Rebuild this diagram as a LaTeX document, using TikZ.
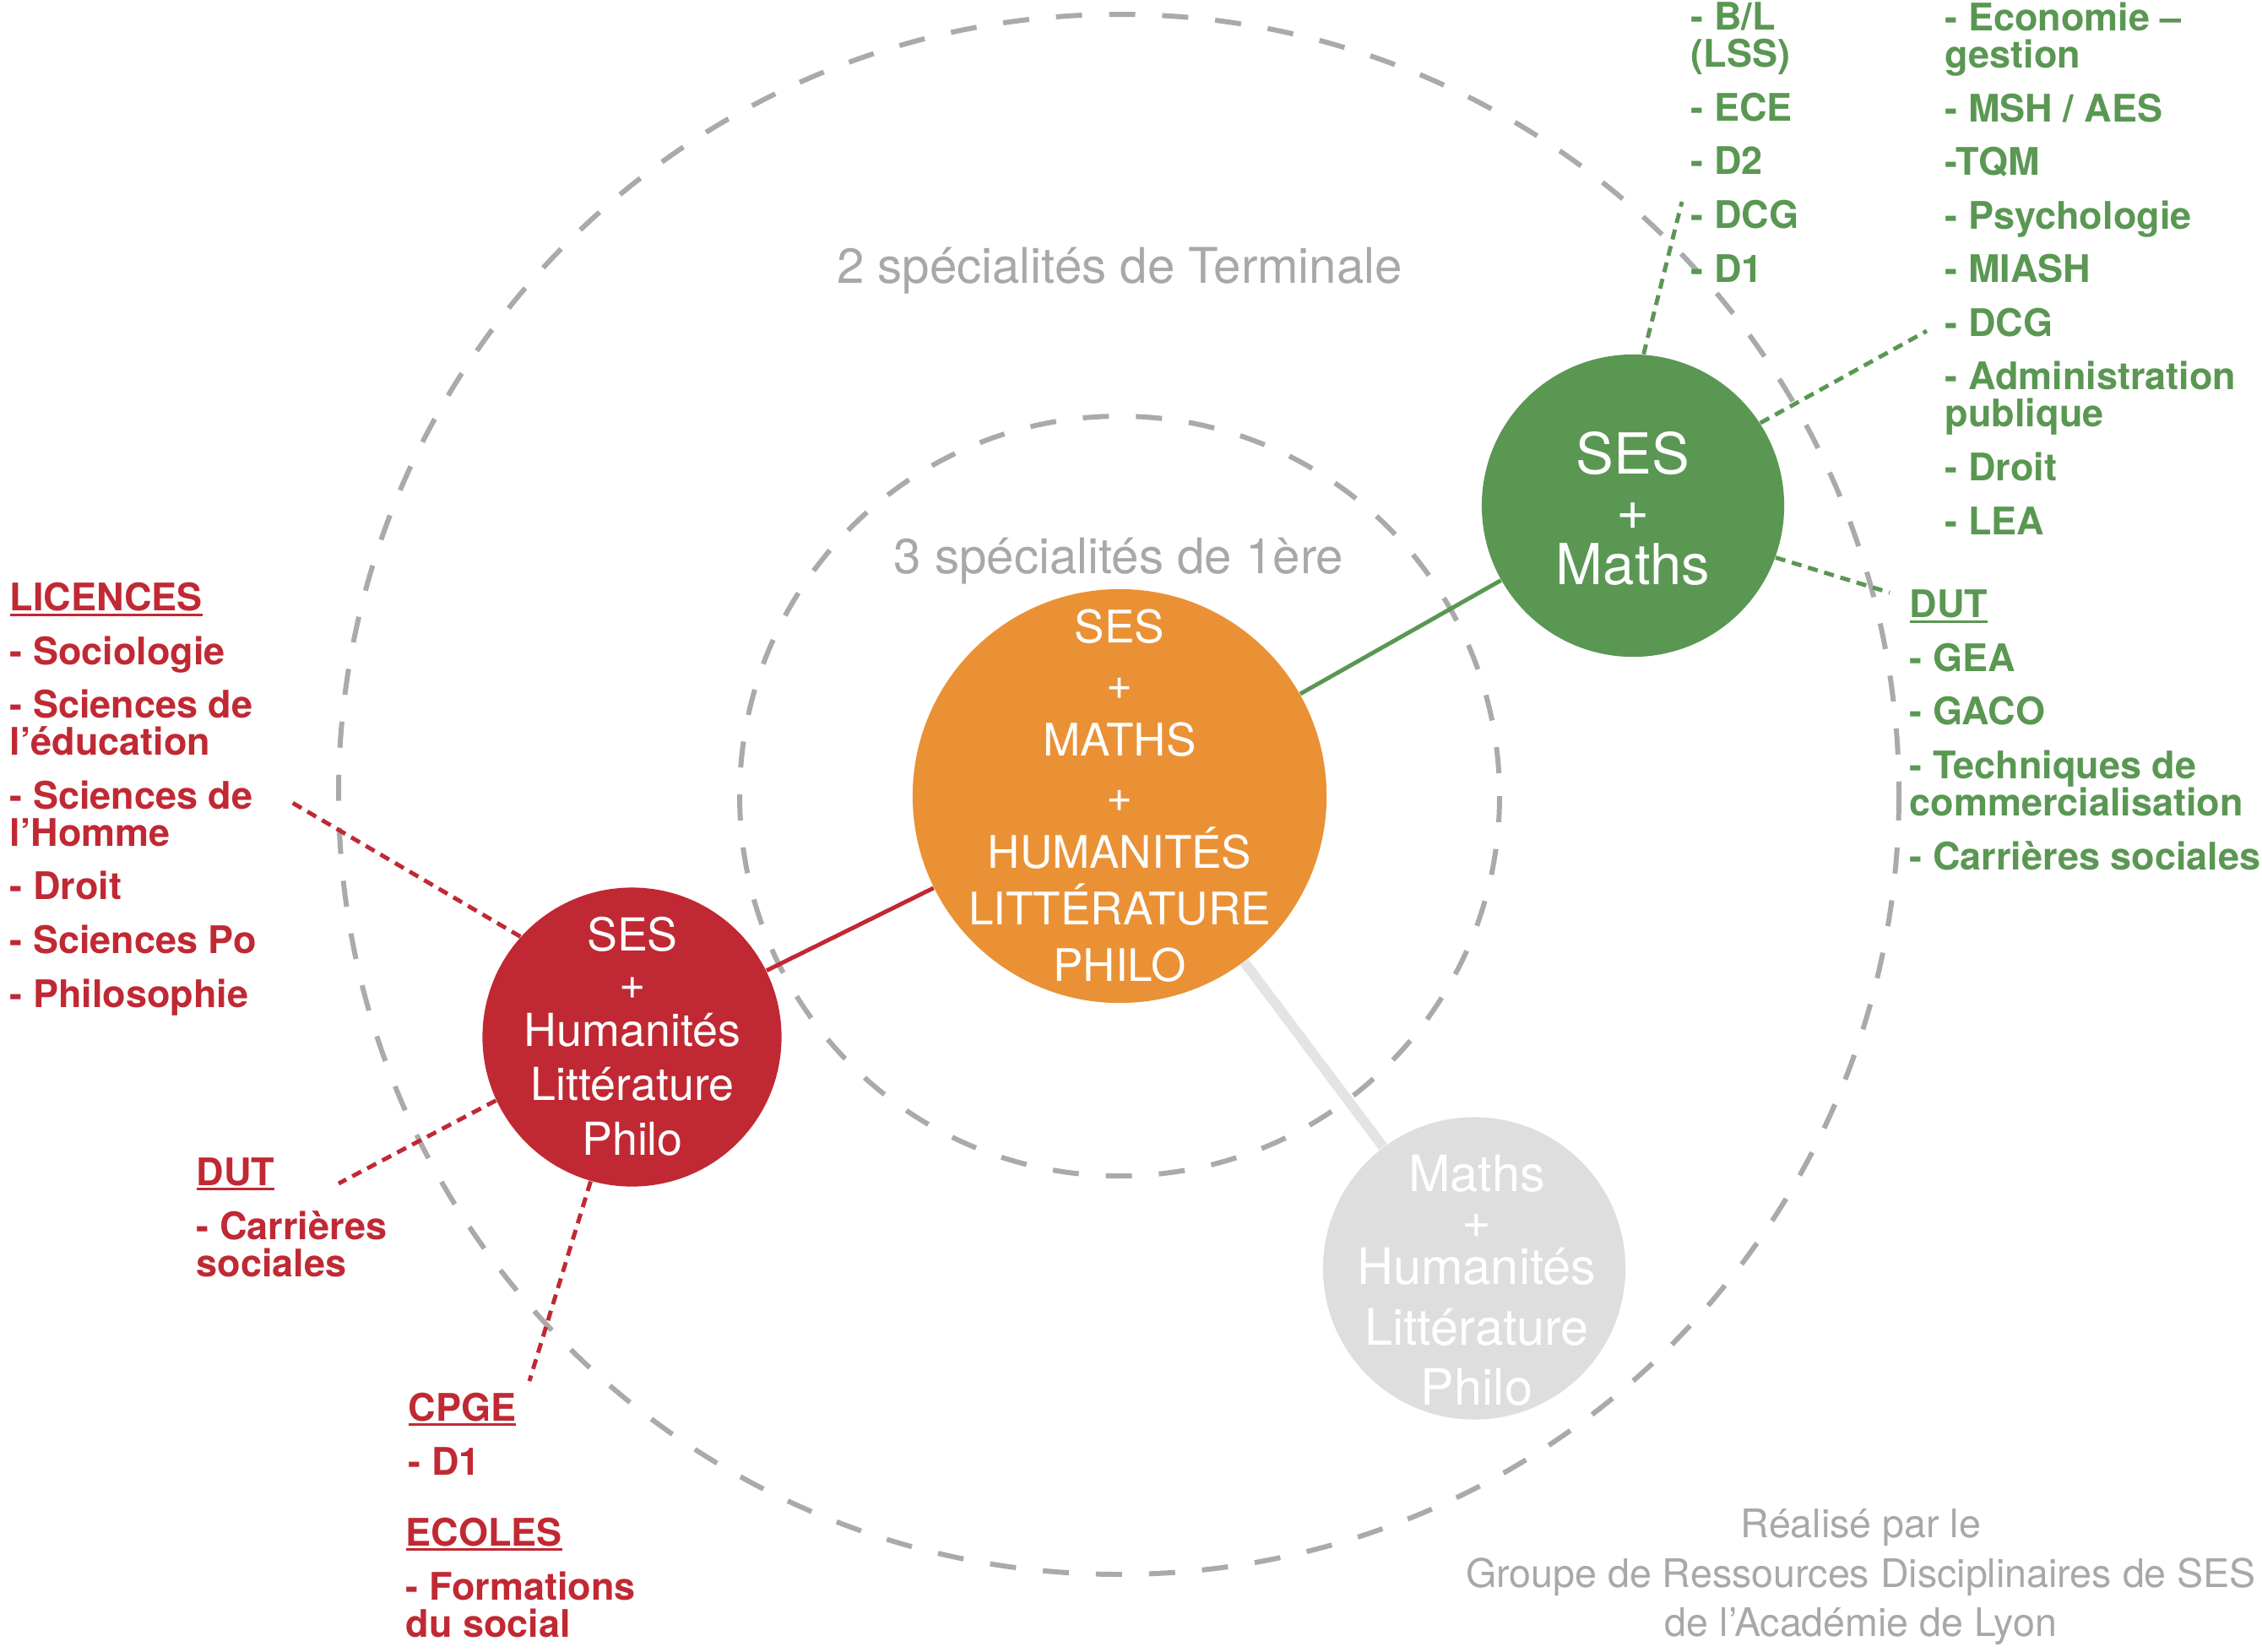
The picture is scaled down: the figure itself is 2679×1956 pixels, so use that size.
\documentclass[tikz,border=0pt]{standalone}
\usepackage{fontspec}
\setmainfont{TeX Gyre Heros}
\definecolor{sesgreen}{RGB}{90,151,83}
\definecolor{sesred}{RGB}{192,41,51}
\definecolor{sesorange}{RGB}{234,145,54}
\definecolor{sesgraycirc}{RGB}{222,222,222}
\definecolor{sesgrayline}{RGB}{228,228,228}
\definecolor{sesdash}{RGB}{170,170,170}
\definecolor{sestext}{RGB}{168,168,168}
\newsavebox\ulbox
\newcommand\myul[1]{\sbox\ulbox{#1}\rlap{\rule[-1.7pt]{\wd\ulbox}{0.85pt}}\usebox\ulbox}
\newcommand\ig{\\[5.55pt]}
\tikzset{
  ring/.style={draw=sesdash, line width=1.7pt, dash pattern=on 8.8pt off 9.1pt},
  bub/.style={circle, inner sep=0pt, minimum size=#1},
  ctext/.style={text=white, align=center, inner sep=0pt, anchor=base},
  list/.style={font=\bfseries\fontsize{12.8pt}{12.52pt}\selectfont, align=left, inner sep=0pt, anchor=base west},
  redlist/.style={list, text=sesred},
  greenlist/.style={list, text=sesgreen},
  reddot/.style={draw=sesred, line width=1.4pt, dash pattern=on 3.4pt off 2.3pt},
  greendot/.style={draw=sesgreen, line width=1.4pt, dash pattern=on 3.4pt off 2.3pt},
  titletext/.style={text=sestext, font=\fontsize{16.55pt}{19pt}\selectfont, inner sep=0pt, anchor=base},
}
\begin{document}
\begin{tikzpicture}[x=0.01cm, y=-0.01cm]
\useasboundingbox (0,0) rectangle (2679,1956);

% dashed rings
\draw[ring] (1325,941) circle[radius=924];
\draw[ring] (1326,943) circle[radius=450];

% bubbles
\node[bub=3.58cm, fill=sesgreen] (green) at (1934,599) {};
\node[bub=4.9cm, fill=sesorange] (orange) at (1326,943) {};
\node[bub=3.54cm, fill=sesred] (red) at (748.5,1228.5) {};
\node[bub=3.58cm, fill=sesgraycirc] (grey) at (1746,1502.5) {};

% solid connectors
\draw[sesgrayline, line width=3.4pt] (orange) -- (grey);
\draw[sesgreen, line width=1.4pt] (orange) -- (green);
\draw[sesred, line width=1.4pt] (orange) -- (red);

% dotted connectors
\coordinate (gtop) at (1992,239);
\coordinate (gdcg) at (2282,392);
\coordinate (gdut) at (2238,702);
\draw[greendot] (green.86) -- (gtop);
\draw[greendot] (green.33) -- (gdcg);
\draw[greendot] (green.-20) -- (gdut);
\coordinate (rlic) at (343,949);
\coordinate (rdut) at (401,1402);
\coordinate (rcpge) at (627,1636);
\draw[reddot] (red.138) -- (rlic);
\draw[reddot] (red.205) -- (rdut);
\draw[reddot] (red.-106) -- (rcpge);

% bubble texts (anchor = baseline of last line)
\node[ctext, font=\fontsize{19.06pt}{18.49pt}\selectfont] (tg) at (1934,692) {SES\\+\\Maths};
\node[ctext, font=\fontsize{15.1pt}{18.98pt}\selectfont] (to) at (1326,1162) {SES\\+\\MATHS\\+\\HUMANITÉS\\LITTÉRATURE\\PHILO};
\node[ctext, font=\fontsize{15.3pt}{18.21pt}\selectfont] (tr) at (749,1368) {SES\\[-2.13pt]+\\[-2.13pt]Humanités\\Littérature\\Philo};
\node[ctext, font=\fontsize{16.9pt}{20.2pt}\selectfont] (tgr) at (1749,1664) {Maths\\[-4.55pt]+\\[-4.55pt]Humanités\\Littérature\\Philo};

% titles
\node[titletext] (t2) at (1326,335) {2 spécialités de Terminale};
\node[titletext] (t3) at (1325,679) {3 spécialités de 1ère};

% green lists
\node[greenlist] (gl1) at (2002,334) {- B/L\\(LSS)\ig- ECE\ig- D2\ig- DCG\ig- D1};
\node[greenlist] (gl2) at (2303,633) {- Economie –\\gestion\ig- MSH / AES\ig-TQM\ig- Psychologie\ig- MIASH\ig- DCG\ig- Administration\\publique\ig- Droit\ig- LEA};
\node[greenlist] (gl3) at (2261,1030) {\myul{DUT}\ig- GEA\ig- GACO\ig- Techniques de\\commercialisation\ig- Carrières sociales};

% red lists
\node[redlist] (rl1) at (11,1193) {\myul{LICENCES}\ig- Sociologie\ig- Sciences de\\l’éducation\ig- Sciences de\\l’Homme\ig- Droit\ig- Sciences Po\ig- Philosophie};
\node[redlist] (rl2) at (232,1512) {\myul{DUT}\ig- Carrières\\sociales};
\node[redlist] (rl3) at (483,1747) {\myul{CPGE}\ig- D1};
\node[redlist] (rl4) at (480,1939) {\myul{ECOLES}\ig- Formations\\du social};

% footer
\node[text=sestext, font=\fontsize{13.25pt}{16.5pt}\selectfont, align=center, inner sep=0pt, anchor=base] (foot) at (2204,1938) {Réalisé par le\\Groupe de Ressources Disciplinaires de SES\\de l’Académie de Lyon};
\end{tikzpicture}
\end{document}
